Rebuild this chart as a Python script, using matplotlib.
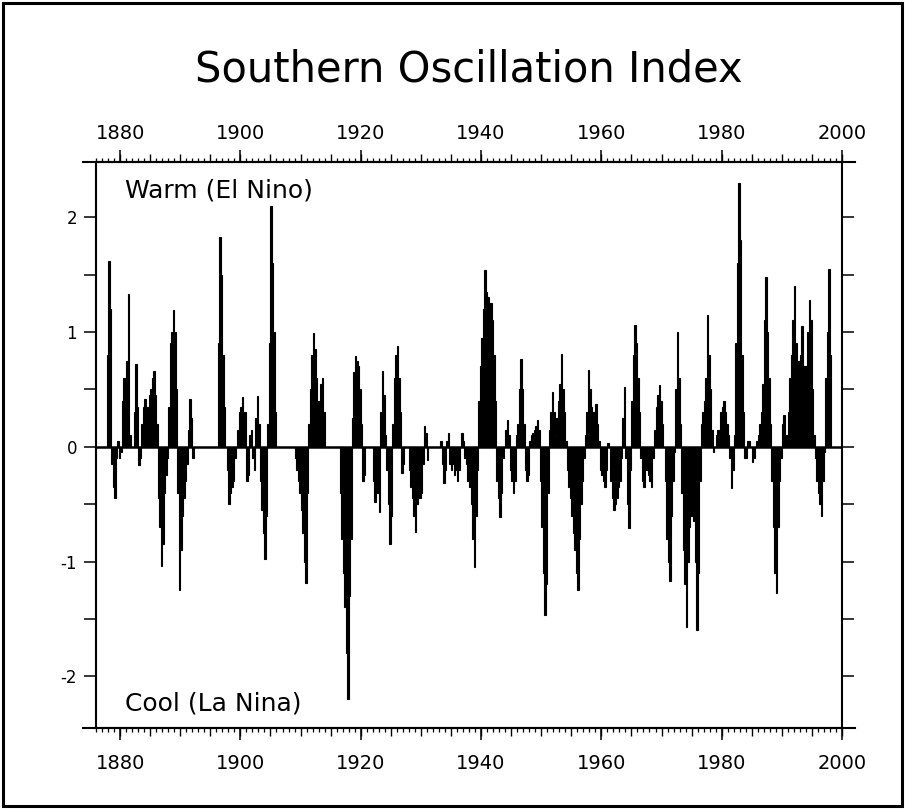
import numpy as np
import matplotlib
matplotlib.use("Agg")
import matplotlib.pyplot as plt
from matplotlib.ticker import MultipleLocator, FuncFormatter
from matplotlib.patches import Rectangle

plt.rcParams["font.family"] = ["DejaVu Sans"]
plt.rcParams["axes.unicode_minus"] = False

# Quarterly index values, one list per decade (4 values per year)
START_YEAR = 1876.0
STEP = 0.25

soi_1870s = [
    0, 0, 0, 0,                     # 1876
    0, 0, 0, 0.8,                   # 1877
    1.62, 1.2, -0.15, -0.35,        # 1878
    -0.45, -0.1, 0.05, -0.1,        # 1879
]
soi_1880s = [
    -0.05, 0.4, 0.6, 0.6,           # 1880
    0.75, 1.33, 0.1, 0.0,           # 1881
    0.0, 0.3, 0.72, 0.35,           # 1882
    -0.16, -0.1, 0.2, 0.35,         # 1883
    0.42, 0.3, 0.35, 0.45,          # 1884
    0.5, 0.6, 0.66, 0.45,           # 1885
    0.2, -0.45, -0.7, -1.04,        # 1886
    -0.85, -0.4, -0.25, -0.1,       # 1887
    0.35, 0.9, 1.0, 1.19,           # 1888
    1.0, 0.5, -0.4, -1.25,          # 1889
]
soi_1890s = [
    -0.9, -0.6, -0.45, -0.3,        # 1890
    -0.15, 0.15, 0.42, 0.25,        # 1891
    -0.1, 0, 0, 0,                  # 1892
    0, 0, 0, 0,                     # 1893
    0, 0, 0, 0,                     # 1894
    0, 0, 0, 0,                     # 1895
    0, 0.9, 1.83, 1.5,              # 1896
    0.8, 0.35, 0.0, -0.2,           # 1897
    -0.5, -0.4, -0.35, -0.3,        # 1898
    -0.1, 0.0, 0.15, 0.3,           # 1899
]
soi_1900s = [
    0.35, 0.43, 0.3, 0.3,           # 1900
    -0.3, -0.25, 0.1, 0.15,         # 1901
    -0.1, -0.2, 0.25, 0.44,         # 1902
    0.2, -0.3, -0.55, -0.75,        # 1903
    -0.98, -0.6, 0.2, 0.9,          # 1904
    2.1, 1.6, 1.0, 0.3,             # 1905
    0, 0, 0, 0,                     # 1906
    0, 0, 0, 0,                     # 1907
    0, 0, 0, 0,                     # 1908
    -0.1, -0.2, -0.3, -0.4,         # 1909
]
soi_1910s = [
    -0.55, -0.75, -1.0, -1.19,      # 1910
    -0.4, 0.2, 0.5, 0.8,            # 1911
    0.99, 0.85, 0.6, 0.4,           # 1912
    0.35, 0.55, 0.6, 0.3,           # 1913
    0, 0, 0, 0,                     # 1914
    0, 0, 0, 0,                     # 1915
    0, 0, -0.4, -0.8,               # 1916
    -1.1, -1.4, -1.8, -2.2,         # 1917
    -1.3, -0.8, 0.25, 0.65,         # 1918
    0.79, 0.75, 0.7, 0.5,           # 1919
]
soi_1920s = [
    0.2, -0.3, -0.25, 0.0,          # 1920
    0, 0, 0, 0,                     # 1921
    -0.3, -0.48, -0.35, -0.4,       # 1922
    -0.57, 0.3, 0.66, 0.45,         # 1923
    0.1, -0.2, -0.5, -0.85,         # 1924
    -0.6, 0.2, 0.6, 0.8,            # 1925
    0.88, 0.6, 0.3, -0.23,          # 1926
    -0.15, 0, 0, 0,                 # 1927
    -0.2, -0.35, -0.45, -0.6,       # 1928
    -0.74, -0.5, -0.35, -0.45,      # 1929
]
soi_1930s = [
    -0.4, -0.15, 0.18, 0.12,        # 1930
    -0.12, 0, 0, 0,                 # 1931
    0, 0, 0, 0,                     # 1932
    0, 0.05, -0.15, -0.32,          # 1933
    -0.2, 0.05, 0.12, -0.15,        # 1934
    -0.2, -0.15, -0.25, -0.2,       # 1935
    -0.3, -0.2, 0.0, 0.12,          # 1936
    0.05, -0.1, -0.15, -0.3,        # 1937
    -0.35, -0.5, -0.8, -1.05,       # 1938
    -0.6, -0.2, 0.4, 0.7,           # 1939
]
soi_1940s = [
    0.95, 1.2, 1.54, 1.35,          # 1940
    1.3, 1.25, 1.25, 1.1,           # 1941
    0.8, 0.4, -0.3, -0.45,          # 1942
    -0.61, -0.4, -0.1, 0.0,         # 1943
    0.15, 0.23, 0.1, -0.2,          # 1944
    -0.3, -0.4, -0.3, 0.1,          # 1945
    0.2, 0.5, 0.76, 0.5,            # 1946
    0.2, -0.2, -0.3, -0.25,         # 1947
    0.05, 0.1, 0.12, 0.15,          # 1948
    0.18, 0.23, 0.15, -0.3,         # 1949
]
soi_1950s = [
    -0.7, -1.1, -1.47, -1.2,        # 1950
    -0.4, 0.15, 0.3, 0.48,          # 1951
    0.3, 0.1, 0.25, 0.4,            # 1952
    0.55, 0.81, 0.5, 0.3,           # 1953
    0.05, -0.2, -0.35, -0.45,       # 1954
    -0.6, -0.75, -0.9, -1.1,        # 1955
    -1.25, -0.8, -0.5, -0.3,        # 1956
    -0.1, 0.1, 0.3, 0.67,           # 1957
    0.5, 0.35, 0.3, 0.3,            # 1958
    0.37, 0.2, 0.05, -0.2,          # 1959
]
soi_1960s = [
    -0.25, -0.3, -0.35, -0.2,       # 1960
    0.03, 0.0, -0.3, -0.45,         # 1961
    -0.55, -0.5, -0.45, -0.35,      # 1962
    -0.3, -0.1, 0.25, 0.52,         # 1963
    -0.1, -0.5, -0.71, -0.2,        # 1964
    0.4, 0.8, 1.06, 0.9,            # 1965
    0.6, 0.3, -0.1, -0.3,           # 1966
    -0.35, -0.2, -0.2, -0.25,       # 1967
    -0.3, -0.35, -0.1, 0.15,        # 1968
    0.35, 0.45, 0.54, 0.4,          # 1969
]
soi_1970s = [
    0.2, 0.0, -0.3, -0.8,           # 1970
    -1.0, -1.17, -0.6, -0.3,        # 1971
    -0.05, 0.5, 1.0, 0.6,           # 1972
    0.2, -0.4, -0.9, -1.2,          # 1973
    -1.57, -1.0, -0.7, -0.6,        # 1974
    -0.6, -0.65, -1.0, -1.6,        # 1975
    -1.1, -0.3, 0.2, 0.3,           # 1976
    0.4, 0.6, 1.15, 0.8,            # 1977
    0.5, 0.15, -0.05, 0.0,          # 1978
    0.1, 0.15, 0.15, 0.3,           # 1979
]
soi_1980s = [
    0.35, 0.4, 0.3, 0.2,            # 1980
    0.1, -0.1, -0.36, -0.2,         # 1981
    0.1, 0.9, 1.6, 2.3,             # 1982
    1.8, 0.8, 0.3, -0.1,            # 1983
    -0.1, 0.05, 0.05, 0.0,          # 1984
    -0.13, -0.1, 0.0, 0.05,         # 1985
    0.1, 0.2, 0.3, 0.55,            # 1986
    1.1, 1.48, 1.0, 0.6,            # 1987
    0.2, -0.3, -0.7, -1.1,          # 1988
    -1.27, -0.7, -0.3, -0.1,        # 1989
]
soi_1990s = [
    0.2, 0.28, 0.1, 0.1,            # 1990
    0.3, 0.6, 0.8, 1.1,             # 1991
    1.4, 0.9, 0.75, 0.75,           # 1992
    0.8, 1.05, 0.7, 0.7,            # 1993
    0.7, 1.0, 1.28, 1.1,            # 1994
    0.5, 0.1, -0.1, -0.3,           # 1995
    -0.4, -0.5, -0.6, -0.3,         # 1996
    -0.05, 0.6, 1.0, 1.55,          # 1997
    0.8,                            # 1998
]

year_ticks = [1880, 1900, 1920, 1940, 1960, 1980, 2000]
index_ticks = [-2, -1, 0, 1, 2]

values = np.concatenate([soi_1870s, soi_1880s, soi_1890s, soi_1900s, soi_1910s,
                         soi_1920s, soi_1930s, soi_1940s, soi_1950s, soi_1960s,
                         soi_1970s, soi_1980s, soi_1990s])
edges = START_YEAR + STEP * np.arange(len(values) + 1)

W, H = 905, 809
fig = plt.figure(figsize=(W / 100, H / 100), dpi=100)
ax = fig.add_axes([96 / W, 81 / H, 746 / W, 566 / H])

ax.stairs(values, edges, baseline=0, fill=True, facecolor="black",
          edgecolor="black", linewidth=0.8)
ax.axhline(0, color="black", lw=1.8)

ax.set_xlim(1876, 2000)
ax.set_ylim(-2.45, 2.48)

for s in ax.spines.values():
    s.set_linewidth(1.5)

# x axis: yearly minor ticks, 5-year ticks, labelled 20-year ticks (top and bottom)
ax.xaxis.set_major_locator(MultipleLocator(5))
ax.xaxis.set_minor_locator(MultipleLocator(1))
ax.tick_params(axis="x", which="major", direction="out", top=True, bottom=True,
               length=5.5, width=1.0, labelbottom=False, labeltop=False)
ax.tick_params(axis="x", which="minor", direction="out", top=True, bottom=True,
               length=3.2, width=0.9)

for loc, pad in (("top", 5), ("bottom", 10)):
    sec = ax.secondary_xaxis(loc)
    sec.set_xticks(year_ticks)
    sec.set_xticklabels([str(y) for y in year_ticks])
    sec.tick_params(direction="out", length=8.6, width=1.1, labelsize=14, pad=pad)
    sec.spines[loc].set_visible(False)

# y axis: ticks every 0.5 on both sides, integer labels on the left only
ax.yaxis.set_major_locator(MultipleLocator(0.5))
ax.yaxis.set_major_formatter(FuncFormatter(
    lambda v, p: f"{int(round(v))}" if abs(v - round(v)) < 1e-6 and int(round(v)) in index_ticks else ""))
ax.tick_params(axis="y", which="major", direction="out", left=True, right=True,
               labelleft=True, labelright=False, length=8.6, width=1.1,
               labelsize=12, pad=5)

# horizontal axis lines run slightly past the plot edges
for yv in (0, 1):
    ax.plot([-0.018, 1.018], [yv, yv], transform=ax.transAxes, color="black",
            lw=1.5, clip_on=False)

ax.text(0.039, 0.9505, "Warm (El Nino)", transform=ax.transAxes, fontsize=18,
        ha="left", va="center")
ax.text(0.039, 0.044, "Cool (La Nina)", transform=ax.transAxes, fontsize=18,
        ha="left", va="center")

fig.text(469 / W, 1 - 70 / H, "Southern Oscillation Index", ha="center",
         va="center", fontsize=30)

fig.patches.append(Rectangle((3 / W, 3 / H), 899 / W, 803 / H,
                             transform=fig.transFigure, fill=False,
                             edgecolor="black", lw=2.2))

fig.savefig("out.png", dpi=100)
